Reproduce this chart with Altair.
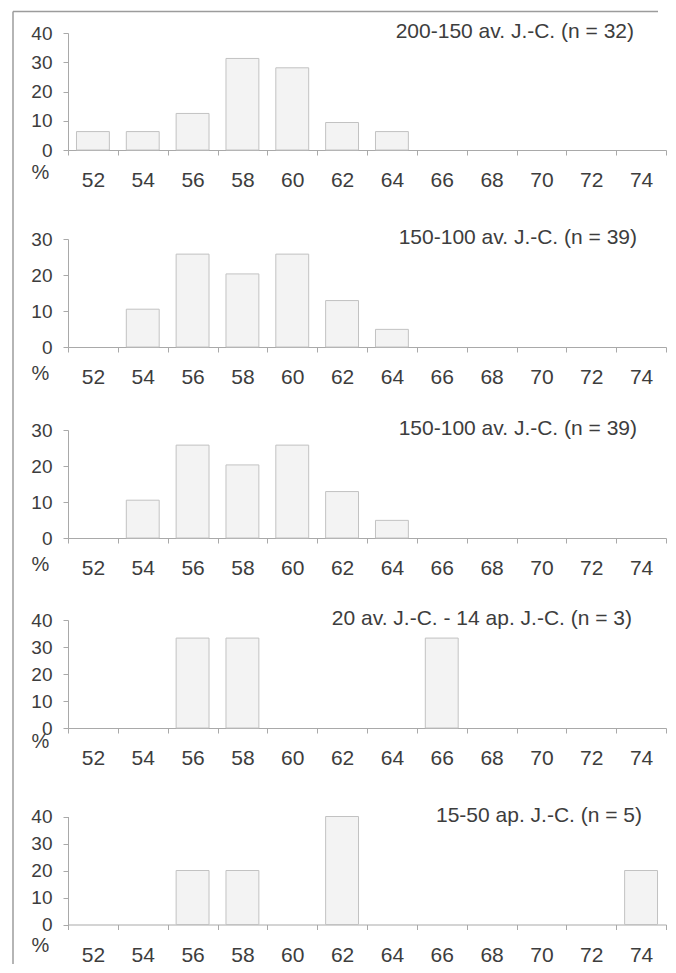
import altair as alt
import pandas as pd

FONT = "Liberation Sans"

# ---- data ----
sizes = ["52", "54", "56", "58", "60", "62", "64", "66", "68", "70", "72", "74"]

titles = [
    "200-150 av. J.-C. (n = 32)",
    "150-100 av. J.-C. (n = 39)",
    "150-100 av. J.-C. (n = 39)",
    "20 av. J.-C. - 14 ap. J.-C. (n = 3)",
    "15-50 ap. J.-C. (n = 5)",
]

pct_p1 = [6.3, 6.3, 12.5, 31.3, 28.1, 9.4, 6.3, 0, 0, 0, 0, 0]
pct_p2 = [0, 10.5, 25.8, 20.3, 25.8, 12.9, 4.9, 0, 0, 0, 0, 0]
pct_p3 = [0, 10.5, 25.8, 20.3, 25.8, 12.9, 4.9, 0, 0, 0, 0, 0]
pct_p4 = [0, 0, 33.3, 33.3, 0, 0, 0, 33.3, 0, 0, 0, 0]
pct_p5 = [0, 0, 20, 20, 0, 40, 0, 0, 0, 0, 0, 20]
series = [pct_p1, pct_p2, pct_p3, pct_p4, pct_p5]

y_max = [40, 30, 30, 40, 40]
y_ticks = [[0, 10, 20, 30, 40], [0, 10, 20, 30], [0, 10, 20, 30],
           [0, 10, 20, 30, 40], [0, 10, 20, 30, 40]]

# ---- layout (pixels) ----
W = 598
heights = [117, 137, 131, 130, 136.5]   # plot area heights
tops = [0, 29, 23, 22, 28.5]            # where the top tick sits inside each plot area
title_right = [566, 569, 569, 564, 574]
pct_dy = [22, 26, 26, 13, 21]

TXT = "#3d3d3d"
AX = "#a9a9a9"


def panel(i):
    df = pd.DataFrame({"size": sizes, "pct": series[i]})
    df = df[df["pct"] > 0]
    H = heights[i]
    bars = alt.Chart(df).mark_bar(
        fill="#f3f3f3", stroke="#c2c2c2", strokeWidth=1,
        width=alt.RelativeBandSize(0.66),
    ).encode(
        x=alt.X(
            "size:N", sort=sizes,
            scale=alt.Scale(type="band", domain=sizes, paddingInner=0, paddingOuter=0),
            axis=alt.Axis(
                title=None, labelAngle=0, tickBand="extent", tickSize=5,
                labelPadding=25.5, labelBaseline="middle", labelFontSize=21,
                labelColor=TXT, domainColor=AX, tickColor=AX, labelFont=FONT,
            ),
        ),
        y=alt.Y(
            "pct:Q",
            scale=alt.Scale(domain=[0, y_max[i]], range=[H, tops[i]], nice=False),
            axis=alt.Axis(
                values=y_ticks[i], grid=False, tickSize=5, labelPadding=11,
                labelFontSize=19, labelColor=TXT, labelFont=FONT,
                domainColor=AX, tickColor=AX,
                title="%", titleAngle=0, titleX=-28, titleY=H + pct_dy[i],
                titleAlign="center", titleBaseline="middle", titleFontSize=20,
                titleFontWeight="normal", titleColor=TXT, titleFont=FONT,
            ),
        ),
    )
    ttl = alt.Chart(pd.DataFrame({"t": [titles[i]]})).mark_text(
        align="right", baseline="middle", fontSize=21, font=FONT, color=TXT,
    ).encode(
        text="t:N", x=alt.value(title_right[i]), y=alt.value(tops[i] - 1),
    )
    layers = [bars, ttl]
    if i == 0:
        one = alt.Data(values=[{}])
        border_v = alt.Chart(one).mark_rule(color="#9c9c9c", strokeWidth=1.5).encode(
            x=alt.value(-55), y=alt.value(-21.5), y2=alt.value(931)
        )
        border_h = alt.Chart(one).mark_rule(color="#9c9c9c", strokeWidth=1.5).encode(
            x=alt.value(-55), x2=alt.value(590), y=alt.value(-21.5)
        )
        layers += [border_v, border_h]
    return alt.layer(*layers).properties(width=W, height=H)


chart = alt.vconcat(*[panel(i) for i in range(5)], spacing=60, bounds="flush").properties(
    padding={"left": 4, "top": 2, "right": 0, "bottom": 0}
).configure(font=FONT).configure_view(stroke=None)

chart.save("out.html", embed_options={"renderer": "svg", "actions": False})
